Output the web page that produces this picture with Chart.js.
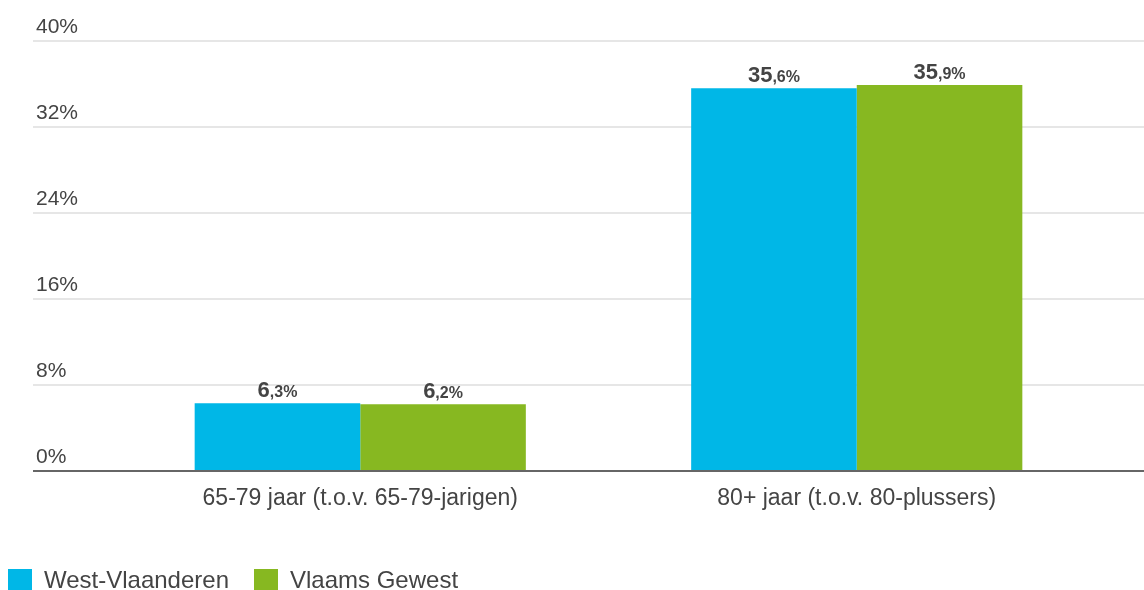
<!DOCTYPE html>
<html>
<head>
<meta charset="utf-8">
<script src="https://cdn.jsdelivr.net/npm/chart.js@4"></script>
<style>
  html, body { margin: 0; padding: 0; background: #fff; }
  #wrap { width: 1144px; height: 590px; }
</style>
</head>
<body>
<div id="wrap"><canvas id="grafiek"></canvas></div>
<script>
// ==================== DATA ====================
var categorieen = ['65-79 jaar (t.o.v. 65-79-jarigen)', '80+ jaar (t.o.v. 80-plussers)'];
var westVlaanderen = [6.3, 35.6];
var vlaamsGewest = [6.2, 35.9];
var yTicks = [0, 8, 16, 24, 32, 40];

var tekstKleur = '#444444';
var fontFam = '"Liberation Sans", Arial, sans-serif';

function fmt(v) {
  return v.toFixed(1).replace('.', ',');
}

// labels boven de balken: "6" groot, ",3%" klein
var waardeLabels = {
  id: 'waardeLabels',
  afterDatasetsDraw: function (chart) {
    var ctx = chart.ctx;
    ctx.save();
    ctx.fillStyle = tekstKleur;
    ctx.textBaseline = 'alphabetic';
    chart.data.datasets.forEach(function (ds, i) {
      var meta = chart.getDatasetMeta(i);
      meta.data.forEach(function (bar, j) {
        var delen = fmt(ds.data[j]).split(',');
        var groot = delen[0];
        var klein = ',' + delen[1] + '%';
        ctx.font = 'bold 22px ' + fontFam;
        var w1 = ctx.measureText(groot).width;
        ctx.font = 'bold 16px ' + fontFam;
        var w2 = ctx.measureText(klein).width;
        var x0 = bar.x - (w1 + w2) / 2;
        var y = bar.y - 6;
        ctx.textAlign = 'left';
        ctx.font = 'bold 22px ' + fontFam;
        ctx.fillText(groot, x0, y);
        ctx.font = 'bold 16px ' + fontFam;
        ctx.fillText(klein, x0 + w1, y);
      });
    });
    ctx.restore();
  }
};

function gridKleur(c) {
  return c.tick && c.tick.value === 0 ? '#666666' : '#e6e6e6';
}

// ==================== CHART ====================
var ctx = document.getElementById('grafiek').getContext('2d');
var grafiek = new Chart(ctx, {
  type: 'bar',
  data: {
    labels: categorieen,
    datasets: [
      { label: 'West-Vlaanderen', data: westVlaanderen, backgroundColor: '#00b7e7' },
      { label: 'Vlaams Gewest', data: vlaamsGewest, backgroundColor: '#87b821' }
    ]
  },
  options: {
    responsive: true,
    maintainAspectRatio: false,
    animation: false,
    layout: { padding: { left: -17, right: 0, top: 41, bottom: -13 } },
    datasets: {
      bar: { categoryPercentage: 0.667, barPercentage: 1.0 }
    },
    plugins: {
      legend: {
        position: 'bottom',
        align: 'start',
        labels: {
          boxWidth: 24,
          boxHeight: 24,
          padding: 25,
          color: tekstKleur,
          font: { family: fontFam, size: 24 }
        }
      },
      tooltip: { enabled: false }
    },
    scales: {
      x: {
        grid: { display: false, drawTicks: false },
        border: { display: false },
        afterFit: function (s) { s.height = 73; },
        ticks: {
          color: tekstKleur,
          padding: 14,
          font: { family: fontFam, size: 23 }
        }
      },
      y: {
        min: 0,
        max: 40,
        afterBuildTicks: function (s) {
          s.ticks = yTicks.map(function (v) { return { value: v }; });
        },
        afterFit: function (s) { s.width = 129; },
        border: { display: false },
        grid: {
          color: gridKleur,
          lineWidth: 2,
          drawTicks: true,
          tickLength: 79
        },
        ticks: {
          color: tekstKleur,
          mirror: true,
          padding: -76,
          labelOffset: -14,
          font: { family: fontFam, size: 21 },
          callback: function (v) { return v + '%'; }
        }
      },
      yRechts: {
        position: 'right',
        min: 0,
        max: 40,
        afterBuildTicks: function (s) {
          s.ticks = yTicks.map(function (v) { return { value: v }; });
        },
        afterFit: function (s) { s.width = 39; },
        border: { display: false },
        grid: {
          color: gridKleur,
          lineWidth: 2,
          drawOnChartArea: false,
          drawTicks: true,
          tickLength: 39
        },
        ticks: { display: false }
      }
    }
  },
  plugins: [waardeLabels]
});
</script>
</body>
</html>
